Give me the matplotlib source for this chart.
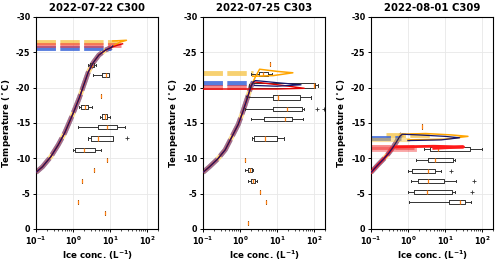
import matplotlib
matplotlib.use("Agg")
import matplotlib.pyplot as plt
from matplotlib.ticker import LogLocator, NullFormatter

plt.rcParams['font.family'] = ['DejaVu Sans']
plt.rcParams['font.weight'] = 'bold'

titles = ["2022-07-22 C300", "2022-07-25 C303", "2022-08-01 C309"]

# sigmoid profile (ice conc, temperature) per panel
sig1_x = [0.1, 0.15, 0.25, 0.4, 0.6, 1.0, 1.5, 2.0, 2.6, 3.5, 5.0, 7.5, 11]
sig1_t = [-8.0, -8.8, -10.2, -11.9, -13.6, -16.3, -18.6, -20.5, -22.2, -23.5, -24.6, -25.3, -25.7]
sig2_x = [0.1, 0.15, 0.25, 0.4, 0.6, 0.9, 1.2, 1.6, 2.0, 2.3]
sig2_t = [-8.0, -8.8, -9.9, -11.2, -13.0, -14.8, -16.6, -18.6, -20.2, -20.8]
sig3_x = [0.1, 0.15, 0.22, 0.3, 0.4, 0.5, 0.6, 0.7]
sig3_t = [-8.0, -9.0, -9.9, -10.7, -11.6, -12.4, -13.1, -13.4]

# extensions of thin lines beyond the sigmoid top
navy1_x = [12]; navy1_t = [-25.9]
red1_x = [16, 22]; red1_t = [-26.0, -26.2]
orng1_x = [18, 28, 12]; orng1_t = [-26.4, -26.7, -26.6]

navy2_x = [2.6, 10, 45, 10, 2.5]; navy2_t = [-21.0, -20.7, -20.4, -20.2, -20.3]
red2_x = [2.5, 15, 55, 10, 0.1]; red2_t = [-20.8, -20.3, -19.9, -19.8, -19.8]
orng2_x = [2.6, 3.4, 10, 27, 8, 2.2]; orng2_t = [-21.5, -22.6, -22.3, -22.1, -21.7, -21.6]

navy3_x = [2, 10, 25, 8, 1]; navy3_t = [-13.3, -13.1, -12.9, -12.6, -12.5]
orng3_x = [3, 15, 42, 10, 1]; orng3_t = [-13.5, -13.3, -13.1, -12.7, -12.6]
red3_x = [0.1, 0.15, 0.22, 0.3, 0.4, 5, 32, 5]; red3_t = [-8.0, -9.0, -9.9, -10.7, -11.6, -11.7, -11.6, -11.4]

# thick dashed horizontal levels: (T, x_start, x_end)
blue_lv = [(-25.6, 0.1, 11), (-20.6, 0.1, 2.2), (-12.9, 0.1, 0.65)]
red_lv = [(-26.0, 0.1, 20), (-20.1, 0.1, 2.0), (-11.65, 0.1, 1.5)]
gold_lv = [(-26.5, 0.1, 17), (-22.1, 0.1, 2.2), (-13.3, 0.25, 4.2)]

# boxplot stats: (T, whislo, q1, med, q3, whishi, fliers)
box1 = [(-23.2, 2.5, 2.9, 3.3, 3.8, 4.3, []),
        (-21.8, 3.5, 6.2, 8.0, 9.4, 9.4, []),
        (-18.8, 5.9, 5.9, 5.9, 5.9, 5.9, []),
        (-17.3, 1.5, 1.68, 2.1, 2.54, 3.3, []),
        (-15.9, 5.5, 6.2, 7.2, 8.5, 9.8, []),
        (-14.4, 1.4, 4.7, 8.5, 15.8, 25, []),
        (-12.8, 2.5, 3.1, 4.7, 12.3, 12.3, [29]),
        (-11.2, 1.0, 1.16, 2.0, 4.0, 5.8, []),
        (-9.7, 8.5, 8.5, 8.5, 8.5, 8.5, []),
        (-8.3, 3.8, 3.8, 3.8, 3.8, 3.8, []),
        (-6.75, 1.8, 1.8, 1.8, 1.8, 1.8, []),
        (-3.8, 1.36, 1.36, 1.36, 1.36, 1.36, []),
        (-2.3, 7.2, 7.2, 7.2, 7.2, 7.2, [])]
box2 = [(-23.3, 6.3, 6.3, 6.3, 6.3, 6.3, []),
        (-21.9, 2.0, 3.2, 4.3, 5.9, 7.2, []),
        (-20.3, 1.8, 2.0, 100, 106, 130, []),
        (-18.6, 1.5, 8.0, 10.8, 42, 83, []),
        (-17.0, 1.4, 8.0, 18.8, 48, 55, [123, 190]),
        (-15.6, 2.0, 4.5, 17, 26, 52, []),
        (-12.8, 2.1, 2.4, 4.8, 9.8, 16, []),
        (-9.8, 1.4, 1.4, 1.4, 1.4, 1.4, []),
        (-8.3, 1.4, 1.6, 1.85, 2.1, 2.3, []),
        (-6.8, 1.7, 2.0, 2.25, 2.55, 2.9, []),
        (-5.2, 3.5, 3.5, 3.5, 3.5, 3.5, []),
        (-3.8, 5.0, 5.0, 5.0, 5.0, 5.0, []),
        (-0.85, 1.6, 1.6, 1.6, 1.6, 1.6, [])]
box3 = [(-14.5, 2.4, 2.4, 2.4, 2.4, 2.4, []),
        (-11.3, 2.7, 3.9, 6.7, 48, 103, []),
        (-9.7, 1.6, 3.5, 5.5, 17, 19, []),
        (-8.2, 1.0, 1.3, 3.5, 5.5, 8, [14.7]),
        (-6.8, 1.2, 1.9, 3.5, 9.5, 20, [61]),
        (-5.2, 1.0, 1.5, 3.2, 16, 19, [55]),
        (-3.8, 1.1, 13, 26, 36, 50, [])]

sigs = [(sig1_x, sig1_t), (sig2_x, sig2_t), (sig3_x, sig3_t)]
navies = [(navy1_x, navy1_t), (navy2_x, navy2_t), (navy3_x, navy3_t)]
reds = [(red1_x, red1_t), (red2_x, red2_t), None]
orngs = [(orng1_x, orng1_t), (orng2_x, orng2_t), (orng3_x, orng3_t)]
boxes = [box1, box2, box3]

fig = plt.figure(figsize=(5.0, 2.61), dpi=100)
lefts = [0.072, 0.406, 0.742]
C_BLUE = '#3a66d9'
C_RED = '#f23a3a'
C_GOLD = '#f5c242'
dash = (0, (4, 0.9))

for i in range(3):
    ax = fig.add_axes([lefts[i], 0.123, 0.244, 0.812])
    ax.set_xscale('log')
    ax.set_xlim(0.1, 200)
    ax.set_ylim(0, -30)
    ax.grid(True, color='#e8e8e8', linewidth=0.6)
    ax.set_axisbelow(True)

    sx, st = sigs[i]
    # thick translucent curves
    ax.plot(sx, st, color=C_GOLD, lw=3.5, alpha=0.6, solid_capstyle='butt', zorder=2)
    ax.plot(sx, st, color=C_BLUE, lw=3.5, alpha=0.7, ls=dash, zorder=2)
    ax.plot(sx, st, color=C_RED, lw=3.5, alpha=0.35, ls=dash, zorder=2)
    for lv, col, al in ((gold_lv[i], C_GOLD, 0.75), (blue_lv[i], C_BLUE, 0.85), (red_lv[i], C_RED, 0.6)):
        t, xa, xb = lv
        ax.plot([xa, xb], [t, t], color=col, lw=3.5, alpha=al, ls=dash, zorder=2)
    if i == 2:
        ax.plot([0.1, 1.0], [-12.6, -12.6], color=C_GOLD, lw=3, alpha=0.5, zorder=2)
        ax.plot([0.1, 1.5], [-11.3, -11.3], color=C_RED, lw=3.5, alpha=0.45, zorder=2)

    # thin lines
    ox, ot = orngs[i]
    if i == 1:
        ax.plot(sx[:-1] + ox, st[:-1] + ot, color='#ffa500', lw=1.1, zorder=3)
    else:
        ax.plot(sx + ox, st + ot, color='#ffa500', lw=1.1, zorder=3)
    if reds[i] is not None:
        rx, rt = reds[i]
        ax.plot(sx + rx, st + rt, color='#e30000', lw=1.0, zorder=4)
    else:
        ax.plot(red3_x, red3_t, color='#ff1a1a', lw=2.0, zorder=3)
    nx, nt = navies[i]
    ax.plot(sx + nx, st + nt, color='#16166b', lw=0.9, zorder=5)

    # boxplots
    stats = []
    pos = []
    for (t, wl, q1, md, q3, wh, fl) in boxes[i]:
        stats.append(dict(whislo=wl, q1=q1, med=md, q3=q3, whishi=wh, fliers=fl))
        pos.append(t)
    ax.bxp(stats, positions=pos, widths=0.6, orientation='horizontal',
           manage_ticks=False, showcaps=True,
           boxprops=dict(color='#333333', lw=0.7),
           whiskerprops=dict(color='#333333', lw=0.7),
           capprops=dict(color='#333333', lw=0.7),
           medianprops=dict(color='#ff7f0e', lw=0.9),
           flierprops=dict(marker='+', markersize=3, markeredgewidth=0.6,
                           markeredgecolor='#333333'))

    ax.set_yticks([0, -5, -10, -15, -20, -25, -30])
    ax.set_yticklabels(['0', '-5', '-10', '-15', '-20', '-25', '-30'])
    ax.xaxis.set_major_locator(LogLocator(base=10, numticks=10))
    ax.xaxis.set_minor_locator(LogLocator(base=10, subs=range(2, 10), numticks=10))
    ax.xaxis.set_minor_formatter(NullFormatter())
    ax.tick_params(axis='both', labelsize=5.8, length=2.5, width=0.7, pad=1.5)
    ax.tick_params(axis='x', which='minor', length=1.5, width=0.5)
    for lab in ax.get_xticklabels() + ax.get_yticklabels():
        lab.set_fontweight('bold')
    for sp in ax.spines.values():
        sp.set_linewidth(0.8)
    ax.set_title(titles[i], fontsize=7.3, fontweight='bold', pad=4)
    ax.set_xlabel('Ice conc. (L$^{-1}$)', fontsize=6.3, fontweight='bold', labelpad=1)
    ax.set_ylabel('Temperature ($^\\circ$C)', fontsize=6.3, fontweight='bold', labelpad=2)

fig.savefig('out.png', dpi=100)
